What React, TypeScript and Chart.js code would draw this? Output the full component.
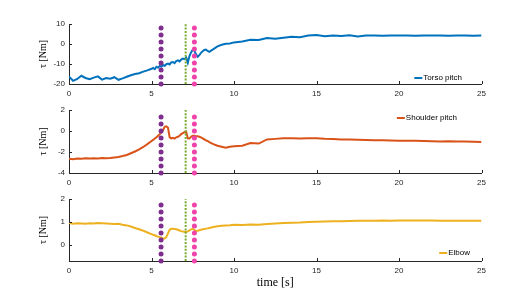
import React, { useEffect, useRef } from "react";
import { Chart, registerables } from "chart.js";
Chart.register(...registerables);

const TIME = [
  0, 0.25, 0.5, 0.75, 1, 1.25, 1.5, 1.75, 2, 2.25, 2.5, 2.75, 3, 3.25, 3.5, 3.75, 4, 4.25, 4.5, 4.75, 5,
  5.1, 5.2, 5.3, 5.4, 5.5, 5.6, 5.7, 5.8, 5.9, 6.0, 6.1, 6.2, 6.3, 6.4, 6.5, 6.6, 6.7, 6.8, 6.9, 7.0,
  7.1, 7.2, 7.3, 7.4, 7.5, 7.6, 7.7, 7.8, 7.9, 8.0, 8.1, 8.2, 8.3, 8.4, 8.5,
  8.75, 9, 9.25, 9.5, 9.75, 10,
  10.5, 11, 11.5, 12, 12.5, 13, 13.5, 14, 14.5, 15, 15.5, 16, 16.5, 17, 17.5, 18, 18.5, 19, 19.5, 20,
  20.5, 21, 21.5, 22, 22.5, 23, 23.5, 24, 24.5, 25,
];

const TORSO = [
  -16.3, -18.4, -17.5, -15.9, -17.0, -17.6, -16.8, -16.2, -17.8, -17.0, -17.4, -16.6, -17.9, -17.2, -16.4, -15.6, -15.0, -14.6, -13.8, -13.2, -12.4,
  -12.0, -12.6, -11.4, -11.8, -11.0, -11.3, -10.6, -10.9, -10.1, -9.8, -10.2, -9.2, -9.0, -9.6, -8.5, -8.2, -8.7, -7.8, -7.3, -7.6,
  -6.8, -9.4, -6.0, -4.2, -2.8, -3.4, -5.2, -6.4, -5.6, -4.4, -3.6, -3.0, -2.8, -3.5, -3.9,
  -2.6, -1.2, -0.4, 0.1, 0.3, 0.8,
  1.3, 2.1, 2.0, 3.0, 2.6, 3.1, 3.6, 3.4, 4.2, 4.5, 3.9, 4.3, 4.0, 4.4, 3.8, 4.2, 4.3, 4.1, 4.2, 4.3,
  4.2, 4.1, 4.2, 4.2, 4.3, 4.1, 4.2, 4.2, 4.1, 4.2,
];

const SHOULDER = [
  -2.65, -2.68, -2.62, -2.64, -2.6, -2.63, -2.6, -2.62, -2.58, -2.6, -2.57, -2.52, -2.47, -2.38, -2.28, -2.12, -1.95, -1.75, -1.52, -1.25, -0.95,
  -0.85, -0.72, -0.6, -0.45, -0.3, -0.15, 0.1, 0.4, 0.45, 0.3, -0.6, -0.7, -0.65, -0.72, -0.6, -0.55, -0.45, -0.3, -0.2, -0.1,
  -0.05, -0.7, -0.72, -0.55, -0.45, -0.45, -0.5, -0.5, -0.55, -0.6, -0.7, -0.8, -0.9, -0.95, -1.05,
  -1.25, -1.4, -1.5, -1.6, -1.5, -1.45,
  -1.4, -1.15, -1.2, -0.8, -0.75, -0.7, -0.68, -0.72, -0.7, -0.7, -0.74, -0.76, -0.8, -0.82, -0.84, -0.86, -0.87, -0.89, -0.9, -0.92,
  -0.93, -0.94, -0.95, -0.97, -1.0, -0.98, -1.0, -1.01, -1.02, -1.04,
];

const ELBOW = [
  0.95, 0.92, 0.94, 0.93, 0.92, 0.94, 0.93, 0.95, 0.94, 0.93, 0.92, 0.91, 0.92, 0.88, 0.85, 0.8, 0.74, 0.68, 0.62, 0.54, 0.47,
  0.44, 0.42, 0.38, 0.36, 0.34, 0.33, 0.28, 0.28, 0.35, 0.5, 0.66, 0.7, 0.7, 0.69, 0.68, 0.66, 0.63, 0.6, 0.58, 0.57,
  0.56, 0.59, 0.63, 0.68, 0.7, 0.65, 0.6, 0.62, 0.64, 0.66, 0.68, 0.69, 0.71, 0.72, 0.74,
  0.78, 0.81, 0.83, 0.85, 0.86, 0.88,
  0.87, 0.89, 0.88, 0.91, 0.93, 0.95, 0.97, 0.98, 1.0, 1.01, 1.02, 1.03, 1.03, 1.04, 1.05, 1.05, 1.05, 1.06, 1.05, 1.06,
  1.06, 1.06, 1.06, 1.06, 1.05, 1.05, 1.05, 1.05, 1.05, 1.05,
];

const EVENT_TIMES = [5.58, 7.07, 7.6];
const X_TICKS = [0, 5, 10, 15, 20, 25];
const TORSO_TICKS = [-20, -10, 0, 10];
const SHOULDER_TICKS = [-4, -2, 0, 2];
const ELBOW_TICKS = [0, 1, 2];

const EVENT_STYLES = [
  { color: "#7E2F8E", width: 5, dash: [0, 7], cap: "round" },
  { color: "#77AC30", width: 2, dash: [2, 1.4], cap: "butt" },
  { color: "#EE44AA", width: 5, dash: [0, 7], cap: "round" },
];

const AXIS_COLOR = "#262626";
const FONT = "'Liberation Sans', Arial, sans-serif";
const SERIF = "'Liberation Serif', 'Times New Roman', serif";

const inwardTicks = {
  id: "inwardTicks",
  afterDraw(chart: any) {
    const { ctx, chartArea, scales } = chart;
    ctx.save();
    ctx.strokeStyle = AXIS_COLOR;
    ctx.lineWidth = 1;
    ctx.beginPath();
    for (const t of scales.x.ticks) {
      const px = Math.round(scales.x.getPixelForValue(t.value)) + 0.5;
      ctx.moveTo(px, chartArea.bottom);
      ctx.lineTo(px, chartArea.bottom - 3);
    }
    for (const t of scales.y.ticks) {
      const py = Math.round(scales.y.getPixelForValue(t.value)) + 0.5;
      ctx.moveTo(chartArea.left, py);
      ctx.lineTo(chartArea.left + 3, py);
    }
    ctx.stroke();
    ctx.restore();
  },
};

const cornerLegend = {
  id: "cornerLegend",
  afterDraw(chart: any, _args: any, opts: any) {
    if (!opts || !opts.label) return;
    const { ctx, chartArea } = chart;
    ctx.save();
    ctx.font = `8px ${FONT}`;
    ctx.textBaseline = "middle";
    ctx.textAlign = "right";
    const right = chartArea.right - opts.dx;
    const y = opts.corner === "tr" ? chartArea.top + opts.dy : chartArea.bottom - opts.dy;
    const w = ctx.measureText(opts.label).width;
    ctx.fillStyle = "#000";
    ctx.fillText(opts.label, right, y);
    ctx.strokeStyle = opts.color;
    ctx.lineWidth = 2;
    ctx.beginPath();
    ctx.moveTo(right - w - 9, y);
    ctx.lineTo(right - w - 1, y);
    ctx.stroke();
    ctx.restore();
  },
};

type PanelProps = {
  top: number;
  height: number;
  padTop: number;
  xHeight: number;
  series: number[];
  color: string;
  label: string;
  yTicks: number[];
  yMin: number;
  yMax: number;
  legend: { corner: string; dx: number; dy: number };
  showXTitle: boolean;
};

function Panel(p: PanelProps) {
  const ref = useRef<HTMLCanvasElement | null>(null);
  useEffect(() => {
    if (!ref.current) return;
    const eventDs = EVENT_TIMES.map((t, i) => ({
      label: "event" + i,
      data: [
        { x: t, y: p.yMin },
        { x: t, y: p.yMax },
      ],
      borderColor: EVENT_STYLES[i].color,
      borderWidth: EVENT_STYLES[i].width,
      borderDash: EVENT_STYLES[i].dash,
      borderCapStyle: EVENT_STYLES[i].cap,
      pointRadius: 0,
      order: 0,
      clip: false,
    }));
    const chart = new Chart(ref.current, {
      type: "line",
      data: {
        datasets: [
          {
            label: p.label,
            data: TIME.map((t, i) => ({ x: t, y: p.series[i] })),
            borderColor: p.color,
            borderWidth: 2,
            pointRadius: 0,
            tension: 0,
            order: 1,
          },
          ...eventDs,
        ] as any,
      },
      options: {
        animation: false,
        responsive: false,
        events: [],
        layout: { padding: { top: p.padTop, right: 50.5, bottom: 0, left: 0 } },
        plugins: {
          legend: { display: false },
          tooltip: { enabled: false },
          cornerLegend: { ...p.legend, label: p.label, color: p.color },
        } as any,
        scales: {
          x: {
            type: "linear",
            min: 0,
            max: 25,
            afterBuildTicks: (s: any) => {
              s.ticks = X_TICKS.map((v) => ({ value: v }));
            },
            afterFit: (s: any) => {
              s.height = p.xHeight;
            },
            grid: { display: false, drawTicks: false },
            border: { display: true, color: AXIS_COLOR, width: 1 },
            ticks: { padding: 5, font: { family: FONT, size: 8 }, color: AXIS_COLOR, maxRotation: 0 },
            title: p.showXTitle
              ? {
                  display: true,
                  text: "time [s]",
                  font: { family: SERIF, size: 12 },
                  color: "#000",
                  padding: { top: 0, bottom: 3.8 },
                }
              : { display: false },
          },
          y: {
            type: "linear",
            min: p.yMin,
            max: p.yMax,
            afterBuildTicks: (s: any) => {
              s.ticks = p.yTicks.map((v) => ({ value: v }));
            },
            afterFit: (s: any) => {
              s.width = 69;
            },
            grid: { display: false, drawTicks: false },
            border: { display: true, color: AXIS_COLOR, width: 1 },
            ticks: { padding: 4, font: { family: FONT, size: 8 }, color: AXIS_COLOR },
            title: {
              display: true,
              text: "τ [Nm]",
              font: { family: SERIF, size: 10 },
              color: "#000",
              padding: { top: 37, bottom: 0 },
            },
          },
        },
      } as any,
      plugins: [inwardTicks, cornerLegend] as any,
    });
    return () => chart.destroy();
  }, []);
  return (
    <canvas
      ref={ref}
      width={532}
      height={p.height}
      style={{ position: "absolute", left: 0, top: p.top, width: 532, height: p.height }}
    />
  );
}

export default function App() {
  return (
    <div style={{ position: "fixed", left: 0, top: 0, width: 532, height: 294, background: "#fff" }}>
      <Panel
        top={0}
        height={100}
        padTop={24}
        xHeight={16}
        series={TORSO}
        color="#0072BD"
        label="Torso pitch"
        yTicks={TORSO_TICKS}
        yMin={-20}
        yMax={10}
        legend={{ corner: "br", dx: 19.5, dy: 6 }}
        showXTitle={false}
      />
      <Panel
        top={95}
        height={100}
        padTop={15}
        xHeight={22}
        series={SHOULDER}
        color="#D95319"
        label="Shoulder pitch"
        yTicks={SHOULDER_TICKS}
        yMin={-4}
        yMax={2}
        legend={{ corner: "tr", dx: 24.5, dy: 8 }}
        showXTitle={false}
      />
      <Panel
        top={190}
        height={104}
        padTop={9}
        xHeight={33}
        series={ELBOW}
        color="#EDB120"
        label="Elbow"
        yTicks={ELBOW_TICKS}
        yMin={-0.7}
        yMax={2}
        legend={{ corner: "br", dx: 11.5, dy: 8 }}
        showXTitle={true}
      />
    </div>
  );
}
